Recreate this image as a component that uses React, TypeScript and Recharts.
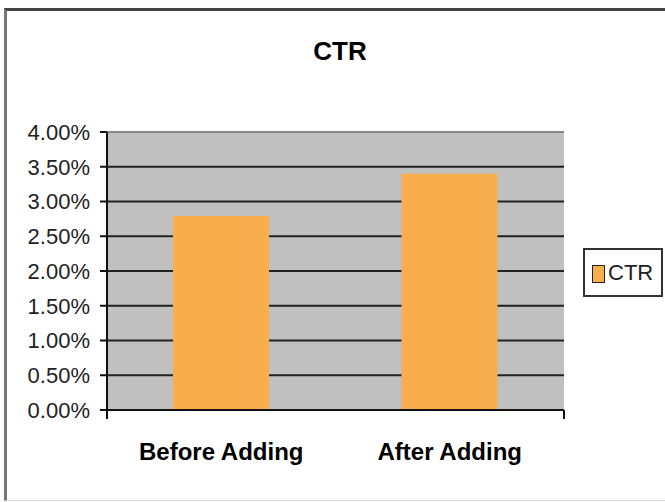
import React from "react";
import { BarChart, Bar, XAxis, YAxis, CartesianGrid, Legend, ReferenceLine } from "recharts";

const categories = ["Before Adding", "After Adding"];
const ctrValues = [2.79, 3.4];
const yTicks = [0, 0.5, 1, 1.5, 2, 2.5, 3, 3.5, 4];
const boundaryTicks = [0, 1, 2];
const seriesName = "CTR";
const titleText = "CTR";

const data = categories.map((c, i) => ({ name: c, CTR: ctrValues[i] }));

const FONT = "'Liberation Sans', Arial, sans-serif";

const renderLegend = () => (
  <div
    style={{
      boxSizing: "border-box",
      width: 80,
      height: 49,
      border: "2px solid #333",
      background: "#fff",
      position: "relative",
      fontFamily: FONT,
    }}
  >
    <div
      style={{
        position: "absolute",
        left: 7,
        top: 15,
        width: 13,
        height: 18,
        boxSizing: "border-box",
        border: "1px solid #222",
        background: "#f8ae4c",
      }}
    />
    <div
      style={{
        position: "absolute",
        left: 23,
        top: 11,
        fontSize: 22,
        lineHeight: "24px",
        color: "#222",
      }}
    >
      {seriesName}
    </div>
  </div>
);

export default function App() {
  return (
    <div style={{ position: "fixed", left: 0, top: 0, width: 665, height: 502, background: "#fff", overflow: "hidden" }}>
      <div
        style={{
          position: "absolute",
          left: 4,
          top: 8,
          width: 700,
          height: 493,
          boxSizing: "border-box",
          borderTop: "3px solid #444",
          borderLeft: "3px solid #777",
          borderBottom: "1px solid #ddd",
        }}
      />
      <div style={{ position: "absolute", left: 0, top: 0 }}>
        <BarChart
          width={665}
          height={502}
          data={data}
          margin={{ top: 132, right: 101, bottom: 32, left: 0 }}
        >
          <CartesianGrid
            vertical={false}
            fill="#c0c0c0"
            stroke="#222"
            strokeWidth={2}
            horizontalValues={yTicks}
          />
          <XAxis xAxisId="b" type="number" domain={[0, 2]} ticks={boundaryTicks} hide />
          <XAxis
            dataKey="name"
            height={60}
            tickLine={false}
            tickSize={0}
            tickMargin={33}
            axisLine={{ stroke: "#111", strokeWidth: 2 }}
            tick={{ fontSize: 24, fontWeight: "bold", fill: "#000", fontFamily: FONT }}
            interval={0}
          />
          <YAxis
            width={107}
            domain={[0, 4]}
            ticks={yTicks}
            interval={0}
            allowDataOverflow
            tickFormatter={(v: number) => `${v.toFixed(2)}%`}
            tickSize={7}
            tickMargin={10}
            tickLine={{ stroke: "#111", strokeWidth: 2 }}
            axisLine={{ stroke: "#111", strokeWidth: 2 }}
            tick={{ fontSize: 22, fill: "#222", fontFamily: FONT }}
          />
          <ReferenceLine xAxisId="b" x={2} stroke="#888" strokeWidth={2} />
          <ReferenceLine y={4} xAxisId="b" stroke="#888" strokeWidth={2} />
          {boundaryTicks.map((t) => (
            <ReferenceLine
              key={`bt-${t}`}
              xAxisId="b"
              segment={[
                { x: t, y: 0 },
                { x: t, y: -0.13 },
              ]}
              ifOverflow="visible"
              stroke="#111"
              strokeWidth={2}
            />
          ))}
          <Legend
            layout="horizontal"
            verticalAlign="middle"
            align="center"
            content={renderLegend}
            wrapperStyle={{ left: 583, top: 248, width: 80, height: 49 }}
          />
          <Bar dataKey="CTR" name={seriesName} fill="#f8ae4c" barSize={96} isAnimationActive={false} />
        </BarChart>
      </div>
      <svg width={665} height={502} style={{ position: "absolute", left: 0, top: 0, pointerEvents: "none" }}>
        <text x={340} y={60} textAnchor="middle" fontSize={26} fontWeight="bold" fontFamily={FONT} fill="#000">
          {titleText}
        </text>
      </svg>
    </div>
  );
}
